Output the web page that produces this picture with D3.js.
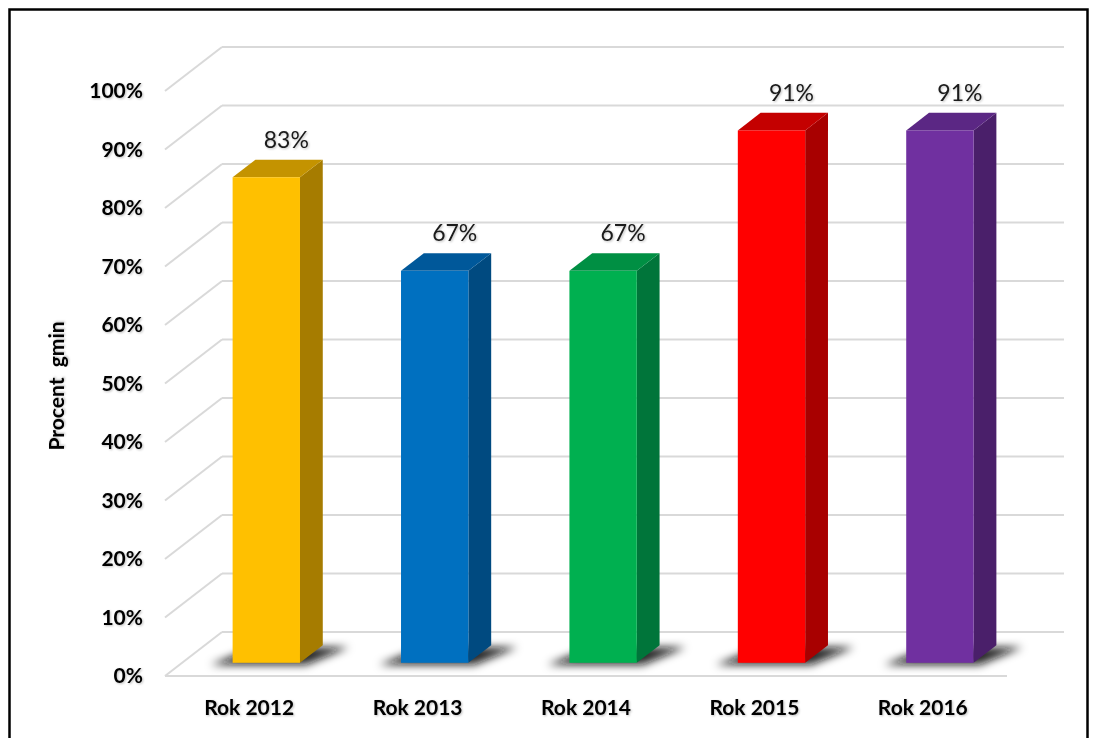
<!DOCTYPE html>
<html><head><meta charset="utf-8">
<script src="https://cdn.jsdelivr.net/npm/d3@7"></script>
<style>body{margin:0;background:#fff}svg{display:block}</style>
</head><body>
<script>
const categories = ["Rok 2012","Rok 2013","Rok 2014","Rok 2015","Rok 2016"];
const values = [0.83, 0.67, 0.67, 0.91, 0.91];
const valueLabels = ["83%","67%","67%","91%","91%"];
const tickValues = [0,0.1,0.2,0.3,0.4,0.5,0.6,0.7,0.8,0.9,1.0];
const frontColors = ["#FFC000","#0070C0","#00B050","#FF0000","#7030A0"];
const sideColors  = ["#A67C00","#004A80","#00753A","#A80000","#4A1F6A"];
const topColors   = ["#C49300","#00589A","#008F43","#C40000","#5B2784"];
const yTitle = "Procent\u00A0\u00A0gmin";

const W = 1094, H = 738;
const svg = d3.select("body").append("svg").attr("width", W).attr("height", H);
const defs = svg.append("defs");
const blur = defs.append("filter").attr("id","blur").attr("x","-50%").attr("y","-100%").attr("width","200%").attr("height","300%");
blur.append("feGaussianBlur").attr("stdDeviation", 4);
const ts = defs.append("filter").attr("id","ts").attr("x","-20%").attr("y","-20%").attr("width","140%").attr("height","140%");
ts.append("feDropShadow").attr("dx",1).attr("dy",1).attr("stdDeviation",1).attr("flood-color","#000").attr("flood-opacity",0.25);

// frame
svg.append("rect").attr("x",9.5).attr("y",9.5).attr("width",1078).attr("height",780)
  .attr("fill","none").attr("stroke","#000").attr("stroke-width",2.5);

// 3D geometry
const DX = 57, DY = -44;           // full depth offset
const f0 = 0.3, f1 = 0.7;          // bar front/back depth fractions
const y = d3.scaleLinear().domain([0,1]).range([676, 91]);
const x = d3.scaleBand().domain(categories).range([165, 1007]).paddingInner(0.6).paddingOuter(0.3);

const grid = svg.append("g").attr("stroke","#D9D9D9").attr("stroke-width",2).attr("fill","none");
tickValues.forEach(t => {
  const yf = y(t), yb = y(t) + DY;
  grid.append("line").attr("x1",165).attr("y1",yf).attr("x2",165+DX).attr("y2",yb);
  grid.append("line").attr("x1",165+DX).attr("y1",yb).attr("x2",1007+DX).attr("y2",yb);
});
grid.append("line").attr("x1",165).attr("y1",y(0)).attr("x2",1007).attr("y2",y(0));

// tick labels
svg.append("g").selectAll("text").data(tickValues).join("text")
  .attr("x",143).attr("y",d=>y(d)+2).attr("text-anchor","end").attr("dominant-baseline","middle")
  .attr("font-family","Lato, sans-serif").attr("font-weight","bold").attr("font-size",21).attr("fill","#000")
  .attr("filter","url(#ts)")
  .text(d=>d3.format(".0%")(d));

// y title
svg.append("text").attr("transform","translate(64,386) rotate(-90)").attr("text-anchor","middle")
  .attr("font-family","Lato, sans-serif").attr("font-weight","bold").attr("font-size",21)
  .attr("filter","url(#ts)").text(yTitle);

// shadows
const sh = svg.append("g").attr("filter","url(#blur)");
categories.forEach((c,i) => {
  const x0 = x(c) + f0*DX, x1 = x0 + x.bandwidth();
  const yb = y(0) + f0*DY;
  const d = DX*(f1-f0), e = DY*(f1-f0);
  sh.append("path").attr("d", d3.line()([[x0-22,yb+2],[x1+6,yb+2],[x1+d+26,yb+e+2],[x0+d,yb+e+2]]))
    .attr("fill","#111").attr("opacity",0.9);
});

// bars
const bars = svg.append("g");
categories.forEach((c,i) => {
  const x0 = x(c) + f0*DX, x1 = x0 + x.bandwidth();
  const yb = y(0) + f0*DY, yt = y(values[i]) + f0*DY;
  const d = DX*(f1-f0), e = DY*(f1-f0);
  bars.append("path").attr("d", d3.line()([[x1,yb],[x1+d,yb+e],[x1+d,yt+e],[x1,yt]])).attr("fill",sideColors[i]);
  bars.append("path").attr("d", d3.line()([[x0,yt],[x1,yt],[x1+d,yt+e],[x0+d,yt+e]])).attr("fill",topColors[i]);
  bars.append("rect").attr("x",x0).attr("y",yt).attr("width",x.bandwidth()).attr("height",yb-yt).attr("fill",frontColors[i]);
  bars.append("text").attr("x",(x0+x1)/2 + 20).attr("y", yt + e - 12)
    .attr("text-anchor","middle").attr("font-family","Lato, sans-serif").attr("font-size",23).attr("fill","#1a1a1a")
    .attr("filter","url(#ts)").text(valueLabels[i]);
});

// category labels
svg.append("g").selectAll("text").data(categories).join("text")
  .attr("x",d=>x(d)+x.bandwidth()/2).attr("y",715).attr("text-anchor","middle")
  .attr("font-family","Lato, sans-serif").attr("font-weight","bold").attr("font-size",21)
  .attr("filter","url(#ts)").text(d=>d);
</script>
</body></html>
